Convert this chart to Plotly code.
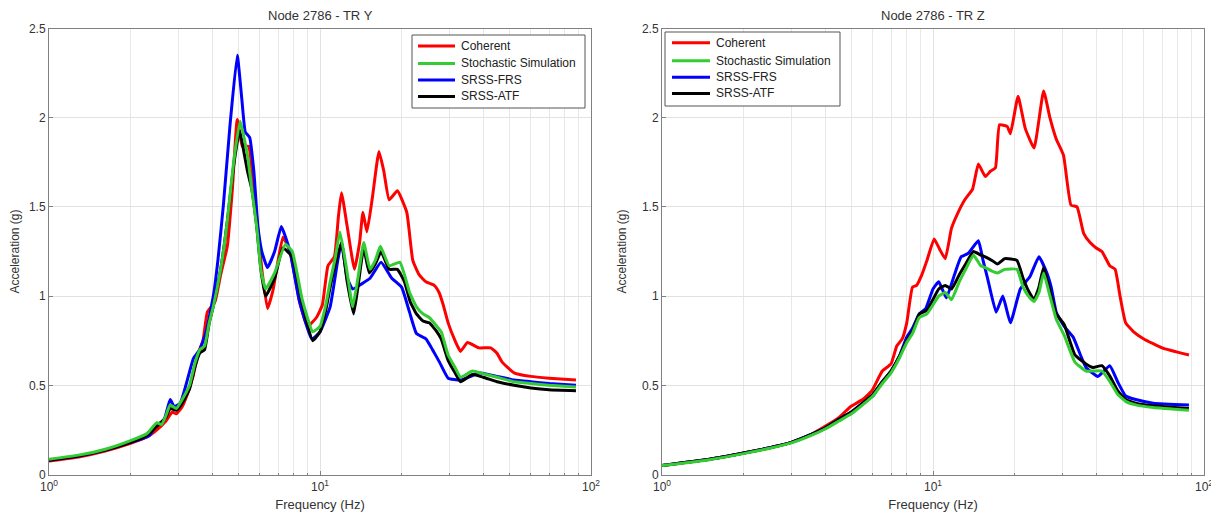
import plotly.graph_objects as go

# ---------------- Left panel: Node 2786 - TR Y ----------------
ly_red_f = [1, 1.3, 1.6, 2, 2.3, 2.5, 2.7, 2.85, 2.95, 3.1, 3.24, 3.4, 3.55, 3.7, 3.84, 4.1, 4.3, 4.55, 4.75, 4.95,
            5.17, 5.45, 5.65, 5.85, 6.1, 6.4, 6.7, 6.95, 7.3, 7.75, 8.1, 8.4, 9.0, 9.7, 10.2, 10.7, 11.3, 11.7, 12.0,
            12.6, 13.4, 14.0, 14.4, 14.9, 15.6, 16.5, 17.2, 18.0, 19.3, 20.9, 22.0, 23.2, 24.6, 26.4, 27.5, 28.5,
            29.7, 31.5, 33, 35, 38.6, 42.7, 45, 47, 52, 60, 70, 88]
ly_red_v = [0.075, 0.1, 0.13, 0.175, 0.21, 0.25, 0.3, 0.35, 0.34, 0.38, 0.45, 0.55, 0.68, 0.75, 0.91, 0.97, 1.12, 1.28,
            1.6, 1.99, 1.84, 1.84, 1.65, 1.43, 1.15, 0.93, 1.03, 1.17, 1.33, 1.25, 1.1, 0.97, 0.83, 0.88, 0.95, 1.17,
            1.22, 1.45, 1.58, 1.39, 1.15, 1.3, 1.47, 1.36, 1.55, 1.81, 1.7, 1.54, 1.59, 1.47, 1.2, 1.12, 1.08, 1.06,
            1.02, 0.95, 0.85, 0.75, 0.69, 0.74, 0.71, 0.71, 0.68, 0.63, 0.57, 0.55, 0.54, 0.53]

ly_green_f = [1, 1.3, 1.6, 2, 2.3, 2.5, 2.6, 2.7, 2.8, 2.95, 3.1, 3.3, 3.45, 3.6, 3.75, 3.9, 4.05, 4.3, 4.55, 4.8, 5.07,
              5.4, 5.6, 5.85, 6.05, 6.3, 6.8, 7.45, 7.9, 8.6, 9.4, 10.0, 10.5, 10.9, 11.4, 11.85, 12.6, 13.2, 13.8,
              14.5, 15.3, 16.0, 16.7, 18.0, 19.7, 20.5, 21.4, 22.7, 24, 25.3, 27.0, 28, 29.7, 31.5, 33, 36.5, 40, 45,
              52, 60, 70, 88]
ly_green_v = [0.085, 0.11, 0.14, 0.19, 0.23, 0.29, 0.28, 0.33, 0.39, 0.37, 0.42, 0.5, 0.62, 0.7, 0.72, 0.85, 0.95, 1.15,
              1.42, 1.75, 1.98, 1.79, 1.6, 1.38, 1.15, 1.04, 1.13, 1.29, 1.25, 0.98, 0.8, 0.83, 0.95, 1.08, 1.22, 1.36,
              1.13, 0.94, 1.1, 1.30, 1.15, 1.2, 1.28, 1.17, 1.19, 1.12, 1.02, 0.94, 0.9, 0.88, 0.83, 0.8, 0.67, 0.6,
              0.545, 0.58, 0.565, 0.545, 0.52, 0.51, 0.5, 0.49]

ly_black_f = [1, 1.3, 1.6, 2, 2.3, 2.5, 2.7, 2.8, 2.95, 3.1, 3.3, 3.45, 3.6, 3.75, 3.9, 4.05, 4.3, 4.55, 4.8, 5.05, 5.25,
              5.4, 5.6, 5.85, 6.05, 6.3, 6.8, 7.3, 7.9, 8.6, 9.4, 10.0, 10.5, 10.9, 11.4, 12.0, 12.6, 13.3, 13.8, 14.5,
              15.2, 16.0, 16.8, 18.0, 19.3, 20.5, 21.5, 22.7, 24, 25.3, 27.0, 28, 29.7, 31.5, 33, 36.5, 40, 45, 52, 60,
              70, 88]
ly_black_v = [0.08, 0.105, 0.135, 0.18, 0.22, 0.27, 0.32, 0.37, 0.36, 0.4, 0.48, 0.6, 0.68, 0.7, 0.85, 0.95, 1.15, 1.42,
              1.73, 1.93, 1.8, 1.7, 1.6, 1.38, 1.15, 1.0, 1.1, 1.27, 1.22, 0.96, 0.75, 0.8, 0.92, 1.05, 1.18, 1.30,
              1.08, 0.90, 1.05, 1.27, 1.13, 1.18, 1.25, 1.15, 1.15, 1.08, 0.97, 0.9, 0.86, 0.85, 0.8, 0.76, 0.64, 0.57,
              0.52, 0.56, 0.545, 0.52, 0.5, 0.485, 0.475, 0.47]

ly_blue_f = [1, 1.3, 1.6, 2, 2.2, 2.35, 2.5, 2.65, 2.8, 2.9, 3.05, 3.2, 3.41, 3.6, 3.8, 4.04, 4.2, 4.4, 4.65, 4.95,
             5.15, 5.3, 5.5, 5.7, 5.9, 6.1, 6.4, 6.8, 7.2, 7.75, 8.4, 9.33, 10.0, 10.9, 11.6, 12.0, 12.6, 13.2, 14.3,
             15.3, 16.8, 18.4, 20.0, 21.4, 22.7, 24.6, 26, 27.6, 29.7, 33, 36, 38.6, 45, 52, 60, 70, 88]
ly_blue_v = [0.08, 0.105, 0.135, 0.18, 0.2, 0.22, 0.28, 0.3, 0.42, 0.38, 0.4, 0.5, 0.65, 0.7, 0.8, 1.0, 1.2, 1.51,
             1.95, 2.35, 2.1, 1.92, 1.89, 1.7, 1.39, 1.25, 1.16, 1.25, 1.39, 1.25, 0.97, 0.76, 0.80, 0.94, 1.19, 1.30,
             1.10, 1.04, 1.07, 1.1, 1.19, 1.10, 1.05, 0.91, 0.79, 0.76, 0.7, 0.63, 0.54, 0.53, 0.55, 0.57, 0.55, 0.53,
             0.52, 0.51, 0.5]

# ---------------- Right panel: Node 2786 - TR Z ----------------
rz_red_f = [1, 1.5, 2, 2.5, 3, 3.5, 4, 4.5, 4.96, 5.5, 5.95, 6.5, 7.0, 7.35, 7.7, 8.0, 8.4, 8.7, 9.1, 9.5, 10.1, 10.6,
            11.1, 11.7, 12.3, 13.1, 14.0, 14.7, 15.6, 16.3, 17.0, 17.6, 18.8, 19.3, 20.6, 21.9, 23.6, 25.6, 27, 28.5,
            30.3, 32.3, 34, 36, 38, 40, 42, 44.9, 47, 49, 51.4, 55, 60, 70, 88]
rz_red_v = [0.05, 0.085, 0.12, 0.15, 0.18, 0.22, 0.27, 0.32, 0.38, 0.42, 0.47, 0.58, 0.62, 0.72, 0.76, 0.85, 1.05, 1.06,
            1.12, 1.2, 1.32, 1.26, 1.21, 1.38, 1.46, 1.54, 1.6, 1.74, 1.67, 1.70, 1.72, 1.96, 1.95, 1.91, 2.12, 1.94,
            1.83, 2.15, 2.0, 1.88, 1.79, 1.51, 1.5, 1.35, 1.3, 1.27, 1.25, 1.17, 1.15, 1.0, 0.85, 0.8, 0.76, 0.71, 0.67]

rz_blue_f = [1, 1.5, 2, 2.5, 3, 3.5, 4, 4.5, 5, 5.5, 6, 6.5, 7, 7.5, 8, 8.4, 8.9, 9.4, 10.0, 10.5, 11.2, 12.0, 12.7,
             13.5, 14.7, 15.3, 15.9, 17.1, 18.1, 19.3, 21.0, 22.8, 24.6, 26.3, 27.3, 28.5, 30.5, 32.9, 35, 36.7, 40.6,
             44.9, 48, 51.4, 56, 65, 88]
rz_blue_v = [0.05, 0.085, 0.12, 0.15, 0.18, 0.22, 0.26, 0.31, 0.35, 0.4, 0.44, 0.52, 0.58, 0.66, 0.77, 0.82, 0.9, 0.93,
             1.04, 1.08, 0.99, 1.12, 1.22, 1.24, 1.31, 1.2, 1.10, 0.91, 1.0, 0.85, 1.04, 1.11, 1.22, 1.13, 1.05, 0.91,
             0.83, 0.77, 0.67, 0.6, 0.55, 0.61, 0.52, 0.44, 0.42, 0.4, 0.39]

rz_black_f = [1, 1.5, 2, 2.5, 3, 3.5, 4, 4.5, 5, 5.5, 6, 6.5, 7, 7.5, 8, 8.4, 8.9, 9.5, 10.5, 11.1, 11.7, 12.5, 13.2,
              14.1, 15.0, 15.6, 16.5, 17.3, 18.4, 20.4, 21.5, 22.5, 23.6, 24.6, 25.6, 26.8, 28.5, 30.5, 33.4, 36.7, 39,
              42, 45, 48, 51.4, 56, 65, 88]
rz_black_v = [0.05, 0.085, 0.12, 0.15, 0.18, 0.22, 0.26, 0.31, 0.35, 0.4, 0.45, 0.52, 0.58, 0.66, 0.75, 0.8, 0.9, 0.92,
              1.04, 1.06, 1.04, 1.12, 1.18, 1.25, 1.23, 1.22, 1.2, 1.18, 1.21, 1.2, 1.1, 1.03, 0.98, 1.05, 1.16, 1.05,
              0.90, 0.84, 0.67, 0.62, 0.6, 0.61, 0.55, 0.47, 0.42, 0.4, 0.385, 0.37]

rz_green_f = [1, 1.5, 2, 2.5, 3, 3.5, 4, 4.5, 5, 5.5, 6, 6.5, 7, 7.5, 8, 8.4, 8.9, 9.5, 10.5, 11.1, 11.7, 12.5, 13.2,
              14.1, 15.0, 15.6, 16.5, 17.3, 18.4, 20.4, 21.5, 22.5, 23.6, 24.6, 25.6, 26.8, 28.5, 30.5, 33.4, 36.7, 39,
              42, 45, 48, 51.4, 56, 65, 88]
rz_green_v = [0.05, 0.083, 0.117, 0.147, 0.177, 0.215, 0.255, 0.3, 0.34, 0.39, 0.44, 0.51, 0.57, 0.65, 0.74, 0.79, 0.88,
              0.9, 1.0, 1.02, 0.98, 1.08, 1.15, 1.23, 1.17, 1.16, 1.14, 1.13, 1.15, 1.15, 1.05, 1.0, 0.97, 1.02, 1.13,
              1.02, 0.87, 0.78, 0.63, 0.58, 0.58, 0.58, 0.52, 0.45, 0.41, 0.39, 0.375, 0.36]

series_names = ["Coherent", "Stochastic Simulation", "SRSS-FRS", "SRSS-ATF"]
series_colors = ["#ff0000", "#33cc33", "#0000ff", "#000000"]
titles = ["Node 2786 - TR Y", "Node 2786 - TR Z"]
x_tick_vals = [1, 10, 100]
x_tick_text = ["10<sup>0</sup>", "10<sup>1</sup>", "10<sup>2</sup>"]
y_tick_vals = [0, 0.5, 1, 1.5, 2, 2.5]
y_tick_text = ["0", "0.5", "1", "1.5", "2", "2.5"]

FONT = "Liberation Sans, Arial, sans-serif"
W, H = 1219, 516


def px(x):
    return x / W


def py(y):
    return 1 - y / H


fig = go.Figure()

panels = [
    ("x", "y", [(ly_red_f, ly_red_v), (ly_green_f, ly_green_v), (ly_blue_f, ly_blue_v), (ly_black_f, ly_black_v)]),
    ("x2", "y2", [(rz_red_f, rz_red_v), (rz_green_f, rz_green_v), (rz_blue_f, rz_blue_v), (rz_black_f, rz_black_v)]),
]
draw_order = [0, 2, 3, 1]  # red, blue, black, green (green on top)
for xa, ya, data in panels:
    for i in draw_order:
        f, v = data[i]
        fig.add_trace(go.Scatter(x=f, y=v, mode="lines", name=series_names[i], xaxis=xa, yaxis=ya,
                                 showlegend=False,
                                 line=dict(color=series_colors[i], width=3, shape="spline", smoothing=0.4)))

axis_common = dict(showline=True, linecolor="#808080", linewidth=1, mirror=True, ticks="inside", ticklen=4,
                   tickcolor="#808080", showgrid=True, gridcolor="#e2e2e2", gridwidth=1, zeroline=False,
                   automargin=False, tickfont=dict(family=FONT, size=12, color="#333333"))

minor_vals = [m * d for d in (1, 10) for m in range(2, 10)]
xcommon = dict(axis_common, type="log", range=[0, 2], tickvals=x_tick_vals, ticktext=x_tick_text,
               ticklabelstandoff=1,
               minor=dict(tickvals=minor_vals, showgrid=True, gridcolor="#e8e8e8", ticks="inside", ticklen=2,
                          tickcolor="#808080"),
               title=dict(text="Frequency (Hz)", font=dict(family=FONT, size=13, color="#333333"), standoff=6))
ycommon = dict(axis_common, range=[0, 2.5], tickvals=y_tick_vals, ticktext=y_tick_text,
               title=dict(text="Acceleration (g)", font=dict(family=FONT, size=12, color="#333333"), standoff=12))

# plot-area geometry (pixels inside the figure)
LX0, LX1, RX0, RX1 = 41, 583, 654, 1196
YT, YB = 20.5, 466.5

shapes = []
annotations = []
for k, t in enumerate(titles):
    cx = (LX0 + LX1) / 2 if k == 0 else (RX0 + RX1) / 2
    annotations.append(dict(text=t, x=px(cx), y=py(7), xref="paper", yref="paper", xanchor="center",
                            yanchor="middle", showarrow=False, font=dict(family=FONT, size=13, color="#333333")))

# legend boxes drawn as layout decorations (one per panel)
legend_specs = [
    dict(box=(404, 27, 577, 100), line=(410, 447), text_x=451, rows=[38, 55.5, 72, 88.5]),
    dict(box=(657, 24, 832, 98), line=(664, 702), text_x=706, rows=[34.7, 52.7, 69.3, 85.5]),
]
for spec in legend_specs:
    x0, y0, x1, y1 = spec["box"]
    shapes.append(dict(type="rect", xref="paper", yref="paper", x0=px(x0), x1=px(x1), y0=py(y1), y1=py(y0),
                       line=dict(color="#555555", width=1), fillcolor="white", layer="above"))
    for i, ry in enumerate(spec["rows"]):
        shapes.append(dict(type="line", xref="paper", yref="paper", x0=px(spec["line"][0]), x1=px(spec["line"][1]),
                           y0=py(ry), y1=py(ry), line=dict(color=series_colors[i], width=3), layer="above"))
        annotations.append(dict(text=series_names[i], x=px(spec["text_x"]), y=py(ry), xref="paper", yref="paper",
                                xanchor="left", yanchor="middle", showarrow=False,
                                font=dict(family=FONT, size=12, color="#222222")))

fig.update_layout(
    width=W, height=H, margin=dict(l=0, r=0, t=0, b=0, autoexpand=False),
    paper_bgcolor="white", plot_bgcolor="white", showlegend=False,
    xaxis=dict(xcommon, domain=[px(LX0), px(LX1)], anchor="y"),
    yaxis=dict(ycommon, domain=[py(YB), py(YT)], anchor="x"),
    xaxis2=dict(xcommon, domain=[px(RX0), px(RX1)], anchor="y2"),
    yaxis2=dict(ycommon, domain=[py(YB), py(YT)], anchor="x2"),
    shapes=shapes,
    annotations=annotations,
)

fig.write_html("out.html")
